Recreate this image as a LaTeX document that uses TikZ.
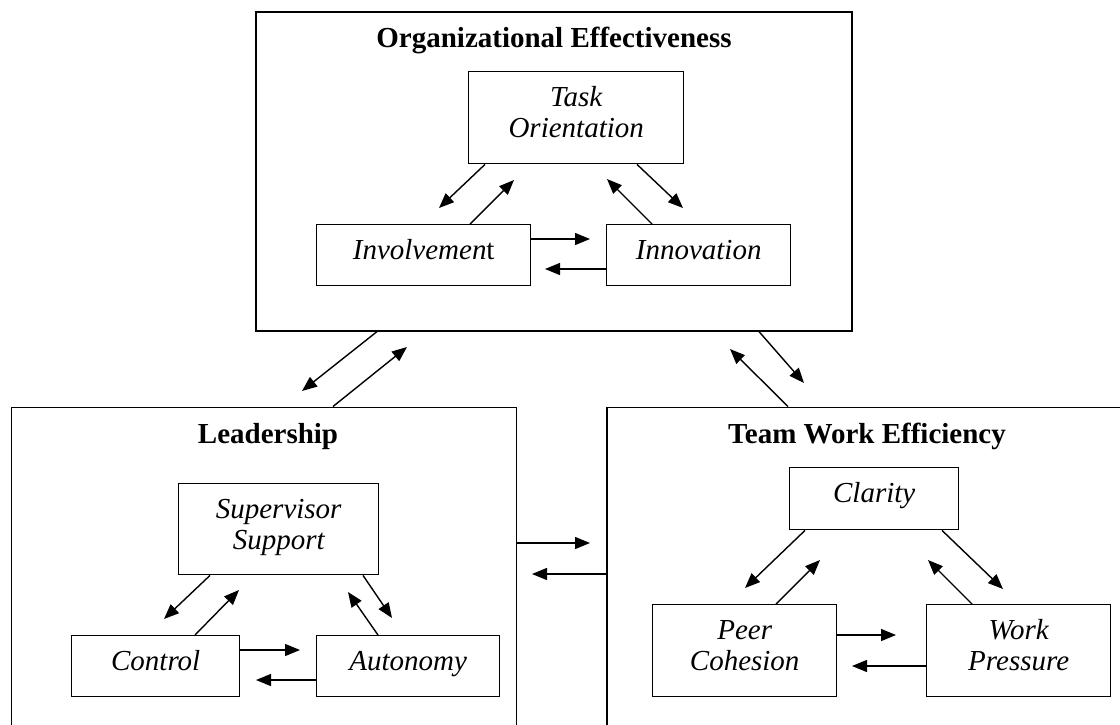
\documentclass[tikz,border=0pt]{standalone}
\usepackage{fontspec}
\setmainfont{Liberation Serif}
\usetikzlibrary{arrows.meta,calc}
\newcommand{\twolines}[2]{\rule{0pt}{20pt}#1\\#2\rule[-11pt]{0pt}{11pt}}
\begin{document}
\begin{tikzpicture}[x=1pt,y=-1pt,
  outerbox/.style={draw, line width=1.6pt, inner sep=0pt, anchor=north west},
  innerbox/.style={draw, line width=1.4pt, inner sep=0pt, anchor=north west, align=center,
    font=\fontsize{29}{31}\selectfont\itshape},
  oneline/.style={text height=17pt, text depth=9pt},
  boxtitle/.style={anchor=base, inner sep=0pt, font=\bfseries\fontsize{29}{34}\selectfont},
  arr/.style={line width=1.4pt, -{Triangle[length=15pt,width=12pt]}}
]
\useasboundingbox (0,0) rectangle (1120,724);
\clip (0,0) rectangle (1120,724);
\fill[white] (0,0) rectangle (1120,724);

% outer boxes
\node[outerbox, minimum width=596pt, minimum height=319pt] (oe) at (255,11) {};
\node[outerbox, minimum width=505pt, minimum height=360pt] (lead) at (10.5,406.5) {};
\node[outerbox, minimum width=540pt, minimum height=360pt] (twe) at (606,406.5) {};

\node[boxtitle] (oeT) at (554,47) {Organizational Effectiveness};
\node[boxtitle] (leadT) at (268,443) {Leadership};
\node[boxtitle] (tweT) at (867,443) {Team Work Efficiency};

% OE inner
\node[innerbox, minimum width=215pt, minimum height=92pt] (task) at (468,71) {\twolines{Task}{Orientation}};
\node[innerbox, oneline, minimum width=214pt, minimum height=61pt] (inv) at (316,224) {Involvemen{\upshape t}};
\node[innerbox, oneline, minimum width=184pt, minimum height=61pt] (inn) at (606,224) {Innovation};

% Leadership inner
\node[innerbox, minimum width=200pt, minimum height=91pt] (sup) at (178,483) {\twolines{Supervisor}{Support}};
\node[innerbox, oneline, minimum width=168pt, minimum height=61pt] (ctl) at (71,635) {Control};
\node[innerbox, oneline, minimum width=183pt, minimum height=61pt] (aut) at (316,635) {Autonomy};

% TWE inner
\node[innerbox, oneline, minimum width=169pt, minimum height=62pt] (cla) at (789,467) {Clarity};
\node[innerbox, minimum width=184pt, minimum height=92pt] (peer) at (652,604) {\twolines{Peer}{Cohesion}};
\node[innerbox, minimum width=184pt, minimum height=92pt] (wp) at (926,604) {\twolines{Work}{Pressure}};

% tips
\coordinate (a1) at (439,208);
\coordinate (a2) at (514,180);
\coordinate (a3) at (607,179);
\coordinate (a4) at (683,208);
\coordinate (a5) at (590,239);
\coordinate (a6) at (545,269);
\coordinate (b1) at (164,619);
\coordinate (b2) at (239,590);
\coordinate (b3) at (348,592);
\coordinate (b4) at (392,618);
\coordinate (b5) at (300,650);
\coordinate (b6) at (256,680);
\coordinate (c1) at (745,588);
\coordinate (c2) at (820,560);
\coordinate (c3) at (928,560);
\coordinate (c4) at (1003,589);
\coordinate (c5) at (896,635);
\coordinate (c6) at (852,666);
\coordinate (d1) at (302,391);
\coordinate (d2) at (407,347);
\coordinate (d3) at (804,383);
\coordinate (d4) at (730,349);
\coordinate (d5) at (590,543);
\coordinate (d6) at (532,574);

% OE arrows
\draw[arr] ($(task.south west)+(17,0)$) -- (a1);
\draw[arr] ($(inv.north west)+(154,0)$) -- (a2);
\draw[arr] ($(inn.north west)+(46,0)$) -- (a3);
\draw[arr] ($(task.south west)+(169,0)$) -- (a4);
\draw[arr] ($(inv.north east)+(0,15)$) -- (a5);
\draw[arr] ($(inn.north west)+(0,45)$) -- (a6);

% Leadership arrows
\draw[arr] ($(sup.south west)+(32,0)$) -- (b1);
\draw[arr] ($(ctl.north west)+(124,0)$) -- (b2);
\draw[arr] ($(aut.north west)+(62,0)$) -- (b3);
\draw[arr] ($(sup.south west)+(185,0)$) -- (b4);
\draw[arr] ($(ctl.north east)+(0,15)$) -- (b5);
\draw[arr] ($(aut.north west)+(0,45)$) -- (b6);

% TWE arrows
\draw[arr] ($(cla.south west)+(16,0)$) -- (c1);
\draw[arr] ($(peer.north west)+(124,0)$) -- (c2);
\draw[arr] ($(wp.north west)+(46,0)$) -- (c3);
\draw[arr] ($(cla.south west)+(153,0)$) -- (c4);
\draw[arr] ($(peer.north east)+(0,31)$) -- (c5);
\draw[arr] ($(wp.north west)+(0,62)$) -- (c6);

% between boxes
\draw[arr] ($(oe.south west)+(122,0)$) -- (d1);
\draw[arr] ($(lead.north west)+(322.5,0)$) -- (d2);
\draw[arr] ($(oe.south west)+(504,0)$) -- (d3);
\draw[arr] ($(twe.north west)+(182,0)$) -- (d4);
\draw[arr] ($(lead.north east)+(0,136.5)$) -- (d5);
\draw[arr] ($(twe.north west)+(0,167.5)$) -- (d6);
\end{tikzpicture}
\end{document}
